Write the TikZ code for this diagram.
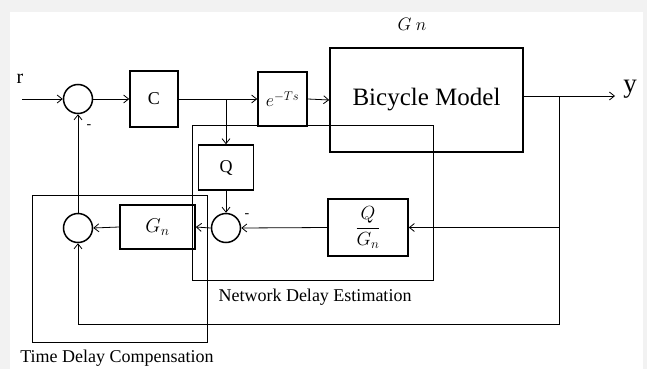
\RequirePackage{fix-cm}
\documentclass[tikz,border=0pt]{standalone}
\usepackage{fontspec}
\setmainfont{Liberation Serif}
\usetikzlibrary{arrows.meta}
\begin{document}
\begin{tikzpicture}[x=1pt,y=-1pt,
 blk/.style={draw, line width=1.6pt, inner sep=0pt, rectangle},
 sumc/.style={draw, circle, line width=1.5pt, minimum size=29pt, inner sep=0pt},
 conn/.style={line width=0.8pt, -{Straight Barb[length=5pt,width=8pt]}},
 wire/.style={line width=0.8pt},
 region/.style={draw, line width=0.8pt},
 lbl/.style={font=\fontsize{18}{20}\selectfont, inner sep=0pt}]
\useasboundingbox (0,0) rectangle (647,369);
\fill[gray!10] (0,0) rectangle (647,369);
\fill[white] (10,12) rectangle (643,369);

% region boxes
\draw[region] (192,125) rectangle (433,280);
\draw[region] (32,195) rectangle (207,342);

% blocks
\node[blk, minimum width=48pt, minimum height=56pt, font=\fontsize{18}{20}\selectfont] (C) at (154,99) {C};
\node[blk, minimum width=49pt, minimum height=54pt, font=\fontsize{18}{20}\selectfont] (E) at (282.5,99) {$e^{-Ts}$};
\node[blk, minimum width=193pt, minimum height=104pt, font=\fontsize{25}{28}\selectfont] (bike) at (426.5,100) {Bicycle Model};
\node[blk, minimum width=55pt, minimum height=45pt, font=\fontsize{18}{20}\selectfont] (Q) at (226,167.5) {Q};
\node[blk, minimum width=80pt, minimum height=57pt, font=\fontsize{19}{22}\selectfont] (QG) at (368,227.5) {$\displaystyle\frac{Q}{G_n}$};
\node[blk, minimum width=75pt, minimum height=44pt, font=\fontsize{20}{22}\selectfont] (Gn) at (157.5,227) {$G_n$};

\node[sumc] (c1) at (78,99) {};
\node[sumc] (c2) at (226,228) {};
\node[sumc] (c3) at (78,228) {};

% labels
\node[font=\fontsize{20}{22}\selectfont, inner sep=0pt] (r) at (20,79) {r};
\coordinate (rin) at (22,99);
\node[font=\fontsize{27}{30}\selectfont, inner sep=0pt] (ylab) at (630,89) {y};
\node[font=\fontsize{18}{20}\selectfont, inner sep=0pt] (gnlab) at (412,24) {$G\ n$};
\node[font=\fontsize{14}{16}\selectfont, inner sep=0pt] (m1) at (89,127) {-};
\node[font=\fontsize{14}{16}\selectfont, inner sep=0pt] (m2) at (247,216) {-};
\node[lbl] (nde) at (315,297) {Network Delay Estimation};
\node[lbl] (tdc) at (117,358) {Time Delay Compensation};

% connectors
\coordinate (br1) at (226,99);
\coordinate (br2) at (559,96);
\coordinate (yend) at (615,96);
\coordinate (fb) at (559,324);

\draw[conn] (rin) -- (c1.west);
\draw[conn] (c1.east) -- (C.west);
\draw[conn] (C.east) -- (E.west);
\draw[conn] (br1) -- (Q.north);
\draw[conn] (E.east) -- (bike.west);
\draw[conn] (bike.east |- br2) -- (yend);
\draw[conn] (br2) |- (QG.east);
\draw[conn] (br2) -- (fb) -| (c3.south);
\draw[conn] (QG.west) -- (c2.east);
\draw[conn] (Q.south) -- (c2.north);
\draw[conn] (c2.west) -- (Gn.east);
\draw[conn] (Gn.west) -- (c3.east);
\draw[conn] (c3.north) -- (c1.south);
\end{tikzpicture}
\end{document}
